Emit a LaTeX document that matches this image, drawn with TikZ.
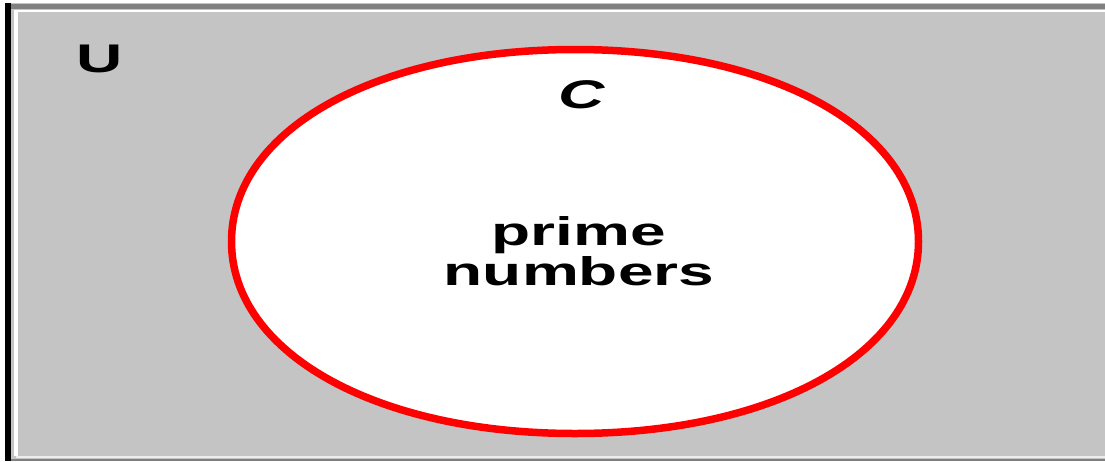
\documentclass[tikz,border=0pt]{standalone}
\usepackage{fontspec}
\setmainfont{Liberation Sans}
\definecolor{panelgray}{HTML}{C4C4C4}
\definecolor{edgegray}{HTML}{808080}
\definecolor{setred}{HTML}{FF0000}
\tikzset{
  setlabel/.style={inner sep=0pt,anchor=base,xscale=1.6,
    font=\bfseries\fontsize{40}{40}\selectfont},
  setname/.style={setlabel,font=\bfseries\itshape\fontsize{40}{40}\selectfont}
}
\begin{document}
\begin{tikzpicture}[x=1pt,y=-1pt]
  \useasboundingbox (0,0) rectangle (1105,461);
  \fill[white] (0,0) rectangle (1105,461);

  % universe panel
  \fill[panelgray] (11,3) rectangle (1105,461);
  \draw[edgegray,line width=5] (11,6.5) -- (1105,6.5);
  \draw[white,line width=2] (14,10.5) -- (1105,10.5);
  \draw[white,line width=4] (16,10) -- (16,456);
  \draw[black,line width=6] (8,3) -- (8,461);
  \draw[white!70!panelgray,line width=2] (16,457) -- (1105,457);
  \draw[edgegray,line width=2] (11,460) -- (1105,460);

  % set C
  \draw[setred,fill=white,line width=7.5]
    (918.5,241.5) .. controls (918.5,130.1) and (774.2,49.5) .. (575,49.5)
    .. controls (375.8,49.5) and (231.5,130.1) .. (231.5,241.5)
    .. controls (231.5,352.9) and (375.8,433.5) .. (575,433.5)
    .. controls (774.2,433.5) and (918.5,352.9) .. cycle;

  \node[setlabel] (uni) at (100,72) {U};
  \node[setname] (setC) at (582,108) {C};
  \node[setlabel] (prime) at (579,245) {prime};
  \node[setlabel] (numbers) at (579,285) {numbers};
\end{tikzpicture}
\end{document}
